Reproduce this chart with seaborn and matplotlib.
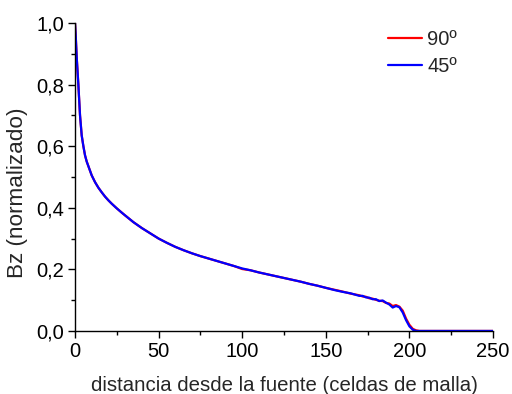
import numpy as np
import pandas as pd
import matplotlib
matplotlib.use("Agg")
import matplotlib.pyplot as plt
from matplotlib.ticker import FuncFormatter, MultipleLocator
import seaborn as sns

# distance from the source (mesh cells)
dist = [0, 0.5, 1, 2, 3, 4, 5, 6, 7, 8, 10, 12, 14, 16, 18, 20, 22, 25, 28, 30,
        35, 40, 45, 50, 55, 60, 65, 70, 75, 80, 85, 90, 95, 100, 105, 110, 115,
        120, 125, 130, 135, 140, 145, 150, 155, 160, 165, 170, 172, 174, 176,
        178, 180, 182, 184, 186, 188, 190, 192, 194, 196, 198, 200, 202, 204,
        206, 250]

# normalised Bz, 90 degree source
bz_90 = [1.0, 0.95, 0.89, 0.80, 0.70, 0.635, 0.60, 0.57, 0.55, 0.535, 0.505,
         0.483, 0.465, 0.450, 0.436, 0.424, 0.413, 0.398, 0.384, 0.375, 0.353,
         0.334, 0.317, 0.300, 0.286, 0.273, 0.262, 0.252, 0.243, 0.235, 0.227,
         0.219, 0.211, 0.201, 0.197, 0.190, 0.184, 0.178, 0.172, 0.166, 0.160,
         0.153, 0.147, 0.140, 0.134, 0.128, 0.121, 0.116, 0.112, 0.111, 0.106,
         0.105, 0.101, 0.098, 0.097, 0.091, 0.089, 0.081, 0.084, 0.079, 0.066,
         0.040, 0.020, 0.007, 0.002, 0.0, 0.0]

# normalised Bz, 45 degree source
bz_45 = [1.0, 0.95, 0.89, 0.80, 0.70, 0.635, 0.60, 0.57, 0.55, 0.535, 0.505,
         0.483, 0.465, 0.450, 0.436, 0.424, 0.413, 0.398, 0.384, 0.375, 0.353,
         0.334, 0.317, 0.300, 0.286, 0.273, 0.262, 0.252, 0.243, 0.235, 0.227,
         0.219, 0.211, 0.203, 0.197, 0.190, 0.184, 0.178, 0.172, 0.166, 0.160,
         0.153, 0.147, 0.140, 0.133, 0.127, 0.122, 0.114, 0.114, 0.109, 0.108,
         0.103, 0.103, 0.097, 0.099, 0.092, 0.086, 0.076, 0.081, 0.077, 0.060,
         0.035, 0.015, 0.004, 0.0, 0.0, 0.0]

labels = ["90º", "45º"]

df = pd.concat([
    pd.DataFrame({"x": dist, "y": bz_90, "serie": labels[0]}),
    pd.DataFrame({"x": dist, "y": bz_45, "serie": labels[1]}),
])

sns.set_theme(style="ticks")
plt.rcParams["font.family"] = ["Liberation Sans", "DejaVu Sans"]

fig = plt.figure(figsize=(5.12, 3.94), dpi=100)
ax = fig.add_axes([0.1465, 0.16, 0.8164, 0.7817])

sns.lineplot(data=df, x="x", y="y", hue="serie", palette=["#ff0000", "#0000ff"],
             linewidth=1.6, ax=ax, sort=False, estimator=None)

ax.set_xlim(0, 250)
ax.set_ylim(0, 1.0)
ax.xaxis.set_major_locator(MultipleLocator(50))
ax.xaxis.set_minor_locator(MultipleLocator(25))
ax.yaxis.set_major_locator(MultipleLocator(0.2))
ax.yaxis.set_minor_locator(MultipleLocator(0.1))
ax.yaxis.set_major_formatter(FuncFormatter(lambda v, p: f"{v:.1f}".replace(".", ",")))

for s in ("top", "right"):
    ax.spines[s].set_visible(False)
for s in ("left", "bottom"):
    ax.spines[s].set_linewidth(1.0)
    ax.spines[s].set_color("black")
ax.tick_params(which="major", direction="out", length=5, width=1.0,
               labelsize=14.5, colors="black", pad=3)
ax.tick_params(which="minor", direction="out", length=3, width=1.0, colors="black")

ax.set_xlabel("distancia desde la fuente (celdas de malla)", fontsize=14.7)
ax.set_ylabel("Bz (normalizado)", fontsize=16.2)
ax.xaxis.set_label_coords(0.5, -0.146)
ax.yaxis.set_label_coords(-0.112, 0.45)

ax.legend(loc="upper left", bbox_to_anchor=(0.749, 0.978), frameon=False,
          fontsize=14.5, handlelength=1.7, handletextpad=0.25,
          labelspacing=0.4, borderpad=0, borderaxespad=0, title=None)

fig.savefig("out.png", dpi=100, facecolor="white")
